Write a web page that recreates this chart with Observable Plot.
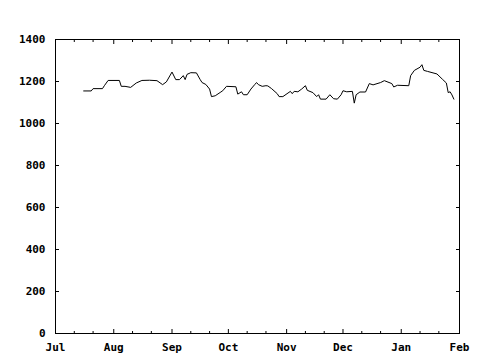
<!DOCTYPE html>
<html><head><meta charset="utf-8">
<script src="https://cdn.jsdelivr.net/npm/d3@7"></script>
<script src="https://cdn.jsdelivr.net/npm/@observablehq/plot@0.6"></script>
<style>body{margin:0;background:#fff}</style>
</head><body><div id="chart"></div>
<script>
const dates = [
"2009-07-16","2009-07-20","2009-07-21","2009-07-26","2009-07-27","2009-07-29",
"2009-08-04","2009-08-05","2009-08-07","2009-08-10","2009-08-13","2009-08-16","2009-08-20","2009-08-24","2009-08-27","2009-08-29",
"2009-09-01","2009-09-03","2009-09-05","2009-09-07","2009-09-08","2009-09-09","2009-09-11","2009-09-14","2009-09-16","2009-09-17","2009-09-19","2009-09-21","2009-09-22","2009-09-24","2009-09-27","2009-09-28","2009-09-30",
"2009-10-05","2009-10-06","2009-10-08","2009-10-09","2009-10-11","2009-10-13","2009-10-15","2009-10-16","2009-10-17","2009-10-19","2009-10-21","2009-10-22","2009-10-24","2009-10-27","2009-10-28","2009-10-30",
"2009-11-03","2009-11-04","2009-11-05","2009-11-07","2009-11-09","2009-11-11","2009-11-12","2009-11-15","2009-11-17","2009-11-18","2009-11-19","2009-11-22","2009-11-24","2009-11-26","2009-11-28","2009-11-30",
"2009-12-01","2009-12-03","2009-12-06","2009-12-07","2009-12-08","2009-12-10","2009-12-13","2009-12-15","2009-12-17","2009-12-21","2009-12-23","2009-12-27","2009-12-28","2009-12-30",
"2010-01-05","2010-01-06","2010-01-08","2010-01-11","2010-01-12","2010-01-13","2010-01-15","2010-01-20","2010-01-23","2010-01-25","2010-01-26","2010-01-27","2010-01-28","2010-01-29"
];
const values = [
1155,1155,1166,1166,1180,1205,
1205,1177,1177,1172,1193,1205,1206,1204,1185,1198,
1245,1209,1209,1228,1209,1234,1242,1241,1209,1195,1186,1164,1128,1132,1150,1156,1177,
1175,1140,1151,1137,1137,1164,1185,1195,1185,1177,1180,1179,1166,1142,1128,1128,
1153,1142,1153,1151,1164,1180,1158,1147,1128,1137,1116,1116,1137,1118,1116,1137,
1156,1151,1153,1097,1137,1150,1150,1190,1184,1195,1204,1190,1174,1182,
1180,1228,1253,1268,1280,1253,1248,1236,1210,1193,1147,1151,1136,1116
];
const monthTicks = ["2009-07-01","2009-08-01","2009-09-01","2009-10-01","2009-11-01","2009-12-01","2010-01-01","2010-02-01"];
const monthLabels = ["Jul","Aug","Sep","Oct","Nov","Dec","Jan","Feb"];
const minorTicks = ["2009-07-11","2009-07-21","2009-08-11","2009-08-21","2009-09-11","2009-09-21","2009-10-11","2009-10-21","2009-11-11","2009-11-21","2009-12-11","2009-12-21","2010-01-11","2010-01-21"];
const yTicks = [0,200,400,600,800,1000,1200,1400];

const data = dates.map((d, i) => ({date: new Date(d), value: values[i]}));
const majorDates = monthTicks.map(d => new Date(d));
const minorDates = minorTicks.map(d => new Date(d));
const fmtX = d => monthLabels[majorDates.findIndex(t => +t === +d)];

const chart = Plot.plot({
  width: 480, height: 360,
  marginLeft: 55, marginRight: 21, marginTop: 39, marginBottom: 27,
  style: {fontFamily: "'DejaVu Sans Mono', monospace", fontSize: "11px", fontWeight: "bold", background: "#fff", color: "#000"},
  x: {type: "utc", domain: [majorDates[0], majorDates[majorDates.length - 1]]},
  y: {domain: [0, 1400]},
  marks: [
    Plot.frame({stroke: "black"}),
    Plot.axisY(yTicks, {anchor: "left", tickSize: 0, tickPadding: 10, tickFormat: d => String(d), label: null}),
    Plot.axisY(yTicks, {anchor: "left", tickSize: 4, dx: 4, fill: "none", label: null}),
    Plot.axisY(yTicks, {anchor: "right", tickSize: 4, dx: -4, fill: "none", label: null}),
    Plot.axisX(majorDates, {anchor: "bottom", tickSize: 0, tickPadding: 10, tickFormat: fmtX, label: null}),
    Plot.axisX(majorDates, {anchor: "bottom", tickSize: 4, dy: -4, fill: "none", label: null}),
    Plot.axisX(majorDates, {anchor: "top", tickSize: 4, dy: 4, fill: "none", label: null}),
    Plot.axisX(minorDates, {anchor: "bottom", tickSize: 2, dy: -2, fill: "none", label: null}),
    Plot.axisX(minorDates, {anchor: "top", tickSize: 2, dy: 2, fill: "none", label: null}),
    Plot.line(data, {x: "date", y: "value", stroke: "black", strokeWidth: 1})
  ]
});
document.getElementById("chart").appendChild(chart);
</script>
</body></html>
